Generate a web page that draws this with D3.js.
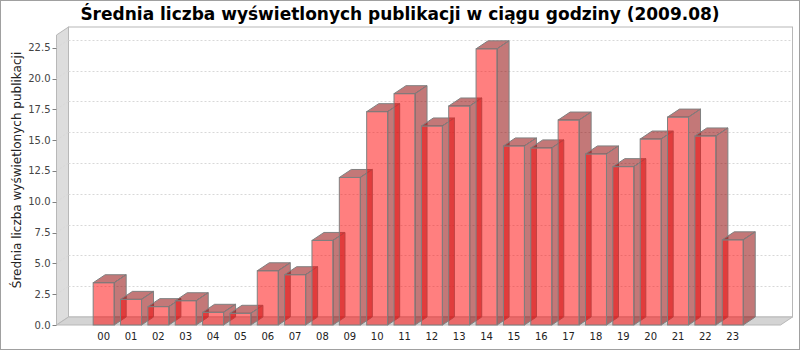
<!DOCTYPE html>
<html>
<head>
  <meta charset="utf-8">
  <title>Średnia liczba wyświetlonych publikacji</title>
  <script src="https://cdn.jsdelivr.net/npm/d3@7"></script>
  <style>
    body { margin: 0; background: #fff; }
    svg { display: block; font-family: "DejaVu Sans", sans-serif; }
  </style>
</head>
<body>
  <div id="container"></div>
  <script>
    const hours = ["00", "01", "02", "03", "04", "05", "06", "07", "08", "09", "10", "11",
                   "12", "13", "14", "15", "16", "17", "18", "19", "20", "21", "22", "23"];
    const views = [3.43, 2.08, 1.49, 1.97, 1.03, 0.95, 4.40, 4.08, 6.86, 11.97, 17.31, 18.77,
                   16.15, 17.77, 22.41, 14.53, 14.37, 16.63, 13.88, 12.85, 15.09, 16.87, 15.34, 6.91];
    const yTicks = [0, 2.5, 5, 7.5, 10, 12.5, 15, 17.5, 20, 22.5];

    const width = 800, height = 350;
    // front plot area and 3d depth
    const plotLeft = 56.5, plotRight = 780.5, plotTop = 35, plotBottom = 325;
    const dx = 12, dy = 8;

    const svg = d3.select("#container").append("svg")
      .attr("width", width)
      .attr("height", height);

    svg.append("rect")
      .attr("x", 0.5).attr("y", 0.5)
      .attr("width", width - 1).attr("height", height - 1)
      .attr("fill", "#fff").attr("stroke", "#a0a0a0");

    const y = d3.scaleLinear().domain([0, 23.53]).range([plotBottom, plotTop]);
    const x = d3.scaleBand().domain(hours).range([90, 746.4])
      .paddingInner(0.232).paddingOuter(0.116);

    // back wall
    svg.append("rect")
      .attr("x", plotLeft + dx).attr("y", plotTop - dy)
      .attr("width", plotRight - plotLeft).attr("height", plotBottom - plotTop)
      .attr("fill", "#fff").attr("stroke", "#b8b8b8");

    // left wall
    svg.append("polygon")
      .attr("points", [[plotLeft, plotTop], [plotLeft + dx, plotTop - dy], [plotLeft + dx, plotBottom - dy], [plotLeft, plotBottom]].join(" "))
      .attr("fill", "#dddddd").attr("stroke", "#b8b8b8");

    // floor
    svg.append("polygon")
      .attr("points", [[plotLeft, plotBottom], [plotLeft + dx, plotBottom - dy], [plotRight + dx, plotBottom - dy], [plotRight, plotBottom]].join(" "))
      .attr("fill", "#d4d4d4").attr("stroke", "#b8b8b8");

    // grid lines
    const grid = svg.append("g").attr("stroke", "#d8d8d8").attr("stroke-dasharray", "2,2");
    grid.selectAll("line.g")
      .data(yTicks.filter(d => d > 0))
      .join("line")
      .attr("class", "g")
      .attr("x1", plotLeft + dx).attr("x2", plotRight + dx)
      .attr("y1", d => Math.round(y(d) - dy) + 0.5).attr("y2", d => Math.round(y(d) - dy) + 0.5);
    grid.selectAll("line.w")
      .data(yTicks.filter(d => d > 0))
      .join("line")
      .attr("class", "w")
      .attr("x1", plotLeft).attr("x2", plotLeft + dx)
      .attr("y1", d => y(d)).attr("y2", d => y(d) - dy);

    // y axis ticks and labels
    const yAxis = svg.append("g");
    yAxis.selectAll("line")
      .data(yTicks)
      .join("line")
      .attr("x1", plotLeft - 4).attr("x2", plotLeft)
      .attr("y1", d => Math.round(y(d)) + 0.5).attr("y2", d => Math.round(y(d)) + 0.5)
      .attr("stroke", "#808080");
    yAxis.selectAll("text")
      .data(yTicks)
      .join("text")
      .attr("x", plotLeft - 6)
      .attr("y", d => y(d) + 3.5)
      .attr("text-anchor", "end")
      .attr("font-size", 10)
      .attr("fill", "#444")
      .text(d => d3.format(".1f")(d));

    // bars
    const bars = svg.append("g");
    const bw = x.bandwidth();
    hours.forEach((h, i) => {
      const x0 = x(h), yv = y(views[i]);
      const g = bars.append("g").attr("stroke", "#808080").attr("stroke-width", 1);
      g.append("rect")
        .attr("x", x0).attr("y", yv)
        .attr("width", bw).attr("height", plotBottom - yv)
        .attr("fill", "rgba(255,0,0,0.5)");
      g.append("polygon")
        .attr("points", [[x0 + bw, yv], [x0 + bw + dx, yv - dy], [x0 + bw + dx, plotBottom - dy], [x0 + bw, plotBottom]].join(" "))
        .attr("fill", "rgba(145,10,10,0.55)");
      g.append("polygon")
        .attr("points", [[x0, yv], [x0 + dx, yv - dy], [x0 + bw + dx, yv - dy], [x0 + bw, yv]].join(" "))
        .attr("fill", "rgba(145,10,10,0.55)");
    });

    // category labels
    svg.append("g").selectAll("text")
      .data(hours)
      .join("text")
      .attr("x", d => x(d) + bw / 2)
      .attr("y", 340)
      .attr("text-anchor", "middle")
      .attr("font-size", 10)
      .attr("fill", "#222")
      .text(d => d);

    // axis title
    svg.append("text")
      .attr("transform", `translate(21,${(plotTop + plotBottom) / 2 - 10}) rotate(-90)`)
      .attr("text-anchor", "middle")
      .attr("font-size", 12)
      .attr("fill", "#222")
      .text("Średnia liczba wyświetlonych publikacji");

    // chart title
    svg.append("text")
      .attr("x", 400)
      .attr("y", 20)
      .attr("text-anchor", "middle")
      .attr("font-size", 17)
      .attr("font-weight", "bold")
      .attr("fill", "#000")
      .text("Średnia liczba wyświetlonych publikacji w ciągu godziny (2009.08)");
  </script>
</body>
</html>
